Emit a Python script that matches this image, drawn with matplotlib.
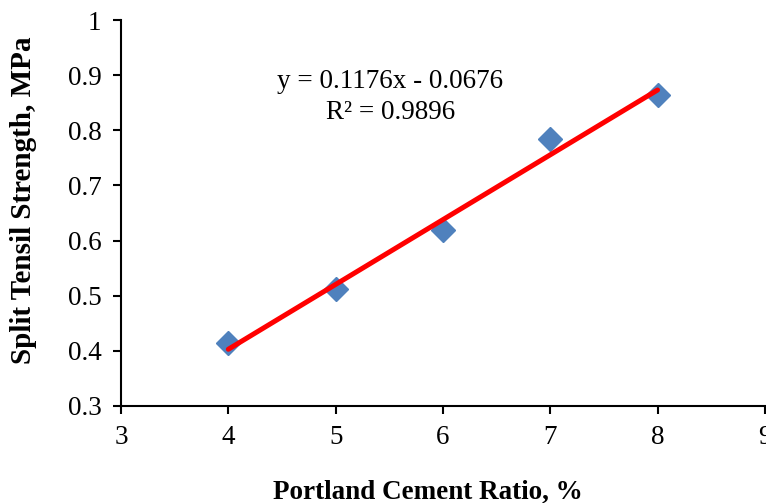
import matplotlib
matplotlib.use("Agg")
import matplotlib.pyplot as plt
import numpy as np

plt.rcParams['font.family'] = ['Liberation Serif', 'DejaVu Serif']

cement_ratio = [4, 5, 6, 7, 8]
split_strength = [0.414, 0.512, 0.619, 0.784, 0.864]
slope = 0.1176
intercept = -0.0676
r_squared = 0.9896

fig = plt.figure(figsize=(7.66, 5.03), dpi=100)
ax = fig.add_axes([0.158, 0.193, 0.8405, 0.767])

ax.plot(cement_ratio, split_strength, linestyle='none', marker='D', markersize=12,
        color='#4F81BD', zorder=2)
xf = np.array([cement_ratio[0], cement_ratio[-1]])
ax.plot(xf, slope * xf + intercept, color='#FF0000', linewidth=3.6,
        solid_capstyle='round', zorder=3)

ax.set_xlim(3, 9)
ax.set_ylim(0.3, 1.0)
ax.set_xticks([3, 4, 5, 6, 7, 8, 9])
ax.set_xticklabels(['3', '4', '5', '6', '7', '8', '9'])
ax.set_yticks([0.3, 0.4, 0.5, 0.6, 0.7, 0.8, 0.9, 1.0])
ax.set_yticklabels(['0.3', '0.4', '0.5', '0.6', '0.7', '0.8', '0.9', '1'])
ax.spines['top'].set_visible(False)
ax.spines['right'].set_visible(False)
for s in ['left', 'bottom']:
    ax.spines[s].set_linewidth(1.5)
ax.tick_params(direction='out', length=6, width=1.5, labelsize=19.5, pad=8)

ax.set_xlabel('Portland Cement Ratio, %', fontsize=19.5, fontweight='bold')
ax.xaxis.set_label_coords(0.477, -0.19)
ax.set_ylabel('Split Tensil Strength, MPa', fontsize=21, fontweight='bold')
ax.yaxis.set_label_coords(-0.131, 0.534)

ax.text(5.51, 0.888, f'y = {slope}x - {abs(intercept)}', fontsize=19.5, ha='center', va='center')
ax.text(5.51, 0.833, f'R² = {r_squared}', fontsize=19.5, ha='center', va='center')

fig.savefig('out.png', dpi=100)
